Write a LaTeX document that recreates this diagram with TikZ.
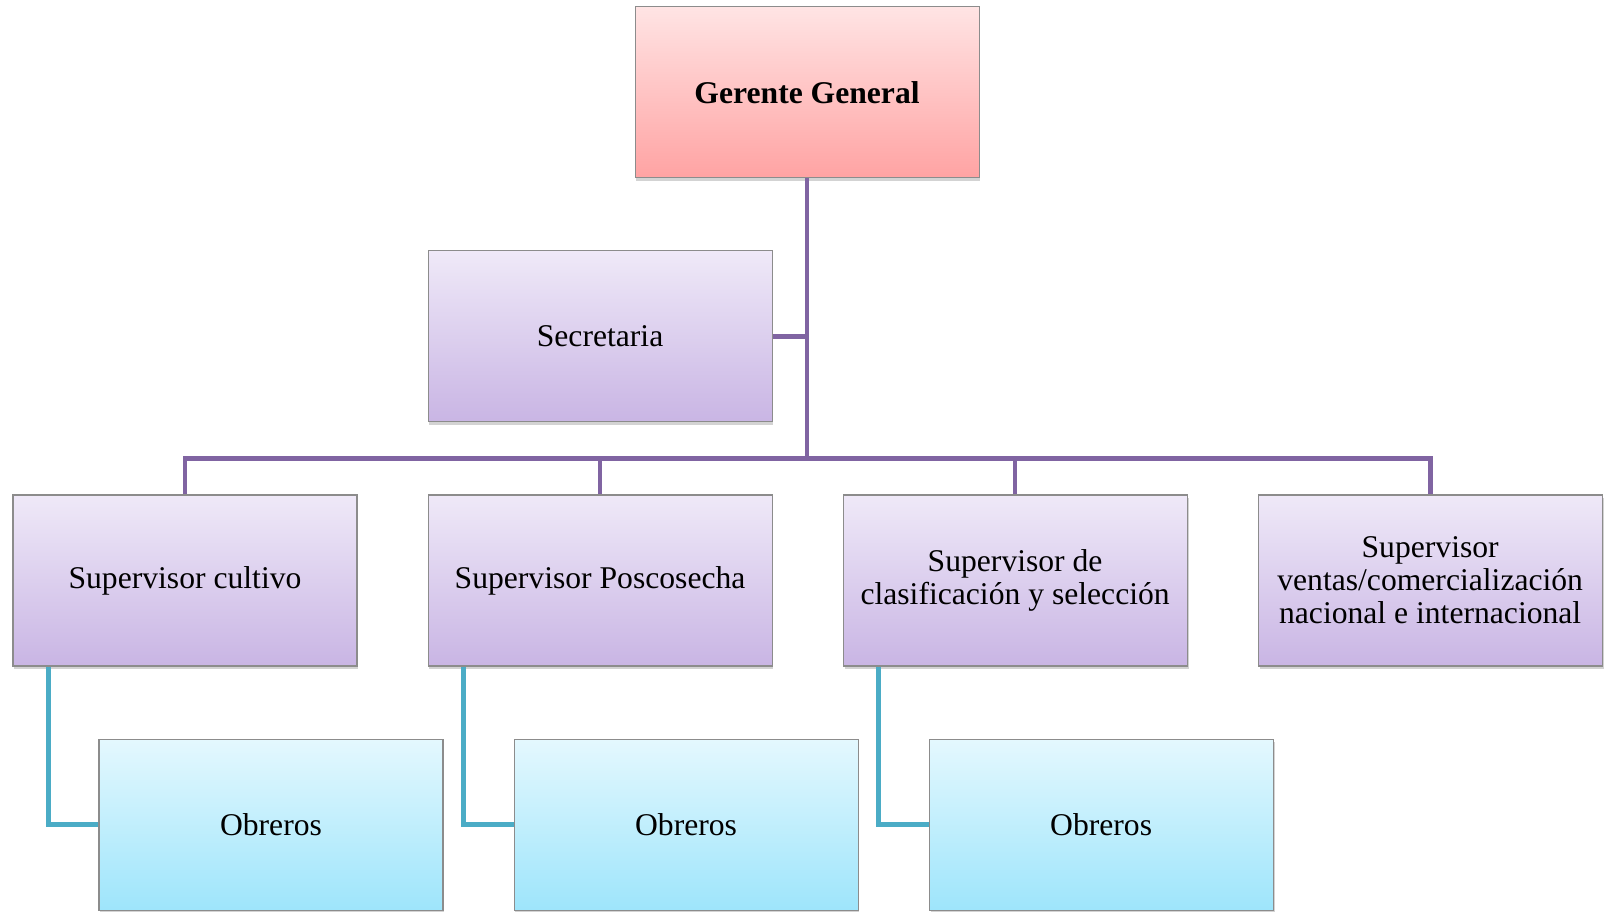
\documentclass[tikz,border=0pt]{standalone}
\usepackage{fontspec}
\setmainfont{Liberation Serif}
\usetikzlibrary{positioning,calc,shadows}
\definecolor{linepurple}{RGB}{128,100,162}
\definecolor{lineteal}{RGB}{75,172,198}
\definecolor{pinktop}{RGB}{255,228,228}
\definecolor{pinkbot}{RGB}{255,163,163}
\definecolor{lilactop}{RGB}{239,233,248}
\definecolor{lilacbot}{RGB}{201,181,228}
\definecolor{skytop}{RGB}{228,248,254}
\definecolor{skybot}{RGB}{158,229,251}

\begin{document}
\begin{tikzpicture}[node distance=1.44cm and 1.40cm,
  orgbox/.style={draw=black!45,line width=.6pt,minimum width=6.88cm,minimum height=3.42cm,align=center,inner sep=2pt,font=\fontsize{18}{18.7}\selectfont,drop shadow={shadow xshift=.8pt,shadow yshift=-1.8pt,opacity=.35}},
  gerbox/.style={orgbox,top color=pinktop,bottom color=pinkbot,font=\fontsize{18}{18.7}\selectfont\bfseries},
  supbox/.style={orgbox,top color=lilactop,bottom color=lilacbot},
  obrbox/.style={orgbox,top color=skytop,bottom color=skybot},
  purpleline/.style={draw=linepurple,line width=2.7pt},
  tealline/.style={draw=lineteal,line width=2.7pt}]
\useasboundingbox (0,0) rectangle (32.12,-18.24);
% supervisors row
\node[supbox] (cultivo) at (3.70,-11.61) {Supervisor cultivo};
\node[supbox,right=of cultivo] (poscosecha) {Supervisor Poscosecha};
\node[supbox,right=of poscosecha] (clasif) {Supervisor de\\clasificación y selección};
\node[supbox,right=of clasif] (ventas) {Supervisor\\ventas/comercialización\\nacional e internacional};
% upper levels
\node[supbox,above=of poscosecha] (secretaria) {Secretaria};
\node[gerbox,above=of secretaria,xshift=4.14cm] (gerente) {Gerente General};
% workers
\node[obrbox,below=of cultivo,xshift=1.72cm] (obr1) {Obreros};
\node[obrbox,below=of poscosecha,xshift=1.72cm] (obr2) {Obreros};
\node[obrbox,below=of clasif,xshift=1.72cm] (obr3) {Obreros};
% connectors
\coordinate (bus) at ($(secretaria.south)!.5!(poscosecha.north)$);
\draw[purpleline] (gerente.south) -- (gerente.south |- bus);
\draw[purpleline] (secretaria.east) -- (secretaria.east -| gerente.south);
\draw[purpleline] (cultivo.north) |- (bus) -| (ventas.north);
\foreach \s in {poscosecha,clasif}
  \draw[purpleline] (\s.north) -- (\s.north |- bus);
\foreach \s/\o in {cultivo/obr1,poscosecha/obr2,clasif/obr3}
  \draw[tealline] ([xshift=.72cm]\s.south west) |- (\o.west);
\end{tikzpicture}
\end{document}
